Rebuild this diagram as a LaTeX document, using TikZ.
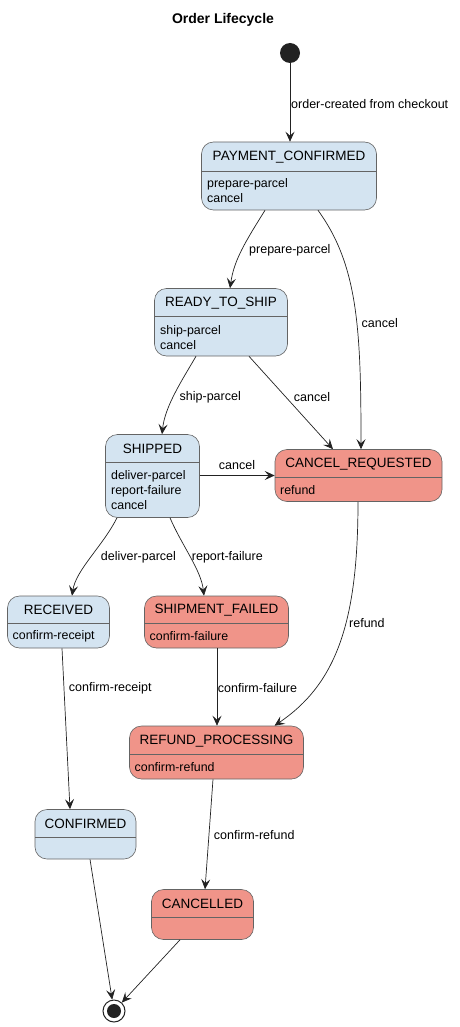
\documentclass[tikz,border=0pt]{standalone}
\usepackage{fontspec}
\setmainfont{Liberation Sans}
\usetikzlibrary{arrows.meta}
\definecolor{stblue}{RGB}{212,228,241}
\definecolor{stred}{RGB}{240,148,137}
\definecolor{stborder}{RGB}{100,100,100}
\definecolor{ink}{RGB}{34,34,34}
\tikzset{
  x=1pt, y=-1pt,
  stbox/.style={draw=stborder, line width=0.6pt, rounded corners=12pt, inner sep=0pt},
  stname/.style={font=\fontsize{13.5}{16}\selectfont, inner sep=0pt},
  stbody/.style={font=\fontsize{12.4}{15}\selectfont, inner sep=0pt, anchor=west, align=left},
  lbl/.style={font=\fontsize{12.5}{15}\selectfont, inner sep=0pt, anchor=west},
  arr/.style={draw=ink, line width=0.7pt, -{Stealth[length=10pt,width=9pt,inset=4pt]}},
}
% state box: name, top, left, right, bottom, divider y, fill
\newcommand{\umlstate}[7]{%
  \node[stbox, fill=#7, minimum width={(#4-#3)*1pt}, minimum height={(#5-#2)*1pt}]
    (#1) at ({(#3+#4)/2},{(#2+#5)/2}) {};
  \draw[stborder, line width=0.6pt] (#3,#6) -- (#4,#6);
}
\begin{document}
\begin{tikzpicture}
\useasboundingbox (0,0) rectangle (459,1027);

\node[font=\bfseries\fontsize{14}{16}\selectfont, inner sep=0pt] (title) at (223,20) {Order Lifecycle};

% pseudo states
\node[circle, fill=ink, minimum size=20pt, inner sep=0pt] (init) at (290,53) {};
\node[circle, draw=ink, line width=1pt, fill=white, minimum size=22pt, inner sep=0pt] (final) at (114,1011) {};
\node[circle, fill=ink, minimum size=14pt, inner sep=0pt] (finaldot) at (114,1011) {};

% states
\umlstate{pc}{142}{201.5}{376.5}{210}{171.5}{stblue}
\node[stname] (pct) at (289,157.5) {PAYMENT\_CONFIRMED};
\node[stbody] (pcb) at (207,191) {prepare-parcel\\cancel};

\umlstate{rts}{288.5}{154.5}{287.5}{356}{316.5}{stblue}
\node[stname] (rtst) at (221,303) {READY\_TO\_SHIP};
\node[stbody] (rtsb) at (160,337.5) {ship-parcel\\cancel};

\umlstate{sh}{434.5}{105.5}{199.5}{517.5}{462.5}{stblue}
\node[stname] (sht) at (152.5,449) {SHIPPED};
\node[stbody] (shb) at (111,490.5) {deliver-parcel\\report-failure\\cancel};

\umlstate{cr}{449.5}{275}{442}{501.5}{477.5}{stred}
\node[stname] (crt) at (358.5,464) {CANCEL\_REQUESTED};
\node[stbody] (crb) at (280,490.5) {refund};

\umlstate{rc}{596}{7.5}{109.5}{648}{623}{stblue}
\node[stname] (rct) at (58.5,610) {RECEIVED};
\node[stbody] (rcb) at (12.5,636.5) {confirm-receipt};

\umlstate{sf}{596}{144.5}{288.5}{648}{623}{stred}
\node[stname] (sft) at (216.5,610) {SHIPMENT\_FAILED};
\node[stbody] (sfb) at (149.5,636.5) {confirm-failure};

\umlstate{rp}{726}{129.5}{303.5}{779}{754}{stred}
\node[stname] (rpt) at (216.5,741.5) {REFUND\_PROCESSING};
\node[stbody] (rpb) at (134.5,767.5) {confirm-refund};

\umlstate{cf}{809.5}{35}{136}{859}{837}{stblue}
\node[stname] (cft) at (85.5,824) {CONFIRMED};

\umlstate{cl}{889.5}{151.5}{253.5}{939.5}{917.5}{stred}
\node[stname] (clt) at (202.5,904) {CANCELLED};

% transitions
\draw[arr] (init) -- ([xshift=1pt]pc.north);
\node[lbl] (l1) at (291,104.5) {order-created from checkout};

\draw[arr] ([xshift=-24pt]pc.south) .. controls +(-20,32) and +(4,-28) .. ([xshift=9pt]rts.north);
\node[lbl] (l2) at (249,250) {prepare-parcel};

\draw[arr] ([xshift=29pt]pc.south) .. controls +(40,55) and +(0,-120) .. ([xshift=2.5pt]cr.north);
\node[lbl] (l3) at (361.5,323.3) {cancel};

\draw[arr] ([xshift=-25pt]rts.south) .. controls +(-14,24) and +(3,-28) .. ([xshift=9.5pt]sh.north);
\node[lbl] (l4) at (179.5,397) {ship-parcel};

\draw[arr] ([xshift=28pt]rts.south) -- ([xshift=-25.5pt]cr.north);
\node[lbl] (l5) at (293.7,397) {cancel};

\draw[arr] (sh.east |- cr.west) -- (cr.west);
\node[lbl] (l6) at (218.7,465) {cancel};

\draw[arr] ([xshift=-35.5pt]sh.south) .. controls +(-14,28) and +(4,-26) .. ([xshift=13.5pt]rc.north);
\node[lbl] (l7) at (100.7,557.3) {deliver-parcel};

\draw[arr] ([xshift=17.5pt]sh.south) .. controls +(12,28) and +(-3,-26) .. ([xshift=-12.5pt]sf.north);
\node[lbl] (l8) at (191.7,557.3) {report-failure};

\draw[arr] ([xshift=-0.5pt]cr.south) .. controls +(0,120) and +(62,-42) .. ([xshift=58pt]rp.north);
\node[lbl] (l9) at (349,623) {refund};

\draw[arr] ([xshift=0.5pt]sf.south) -- ([xshift=0.5pt]rp.north);
\node[lbl] (l10) at (217.7,688.3) {confirm-failure};

\draw[arr] ([xshift=3.5pt]rc.south) -- ([xshift=-15.5pt]cf.north);
\node[lbl] (l11) at (68.7,688.3) {confirm-receipt};

\draw[arr] ([xshift=-3.5pt]rp.south) -- ([xshift=2.5pt]cl.north);
\node[lbl] (l12) at (213.7,835.3) {confirm-refund};

\draw[arr] ([xshift=4.5pt]cf.south) -- (final);
\draw[arr] ([xshift=-22.5pt]cl.south) -- (final);
\end{tikzpicture}
\end{document}
